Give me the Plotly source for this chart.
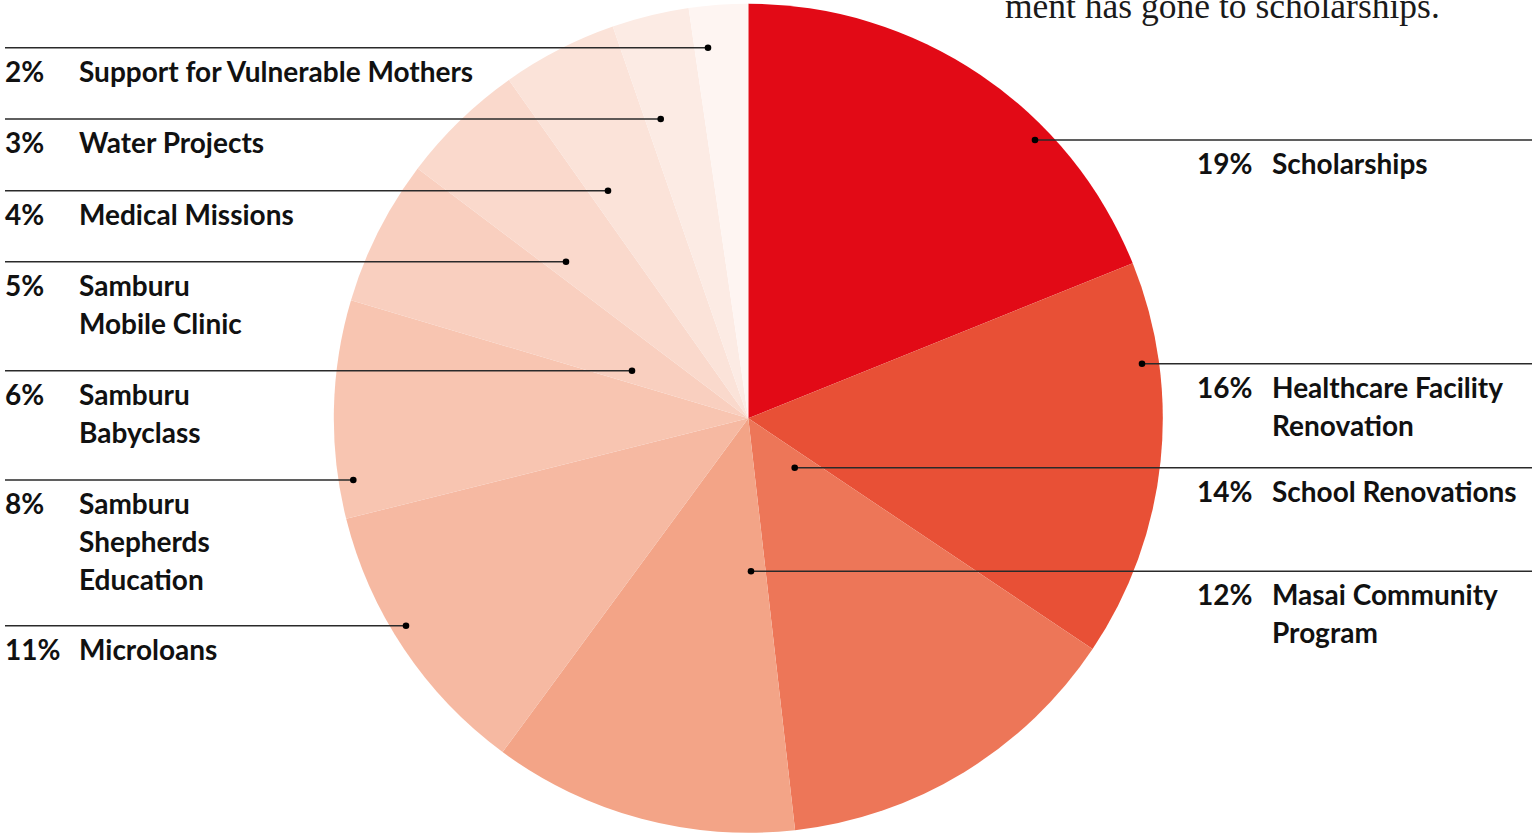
import plotly.graph_objects as go

# ---------------- data ----------------
categories = [
    "Scholarships", "Healthcare Facility<br>Renovation", "School Renovations",
    "Masai Community<br>Program", "Microloans", "Samburu<br>Shepherds<br>Education",
    "Samburu<br>Babyclass", "Samburu<br>Mobile Clinic", "Medical Missions",
    "Water Projects", "Support for Vulnerable Mothers",
]
shares = [18.9, 15.5, 13.8, 11.9, 11.0, 8.5, 5.7, 4.9, 4.5, 3.0, 2.3]
pct_labels = ["19%", "16%", "14%", "12%", "11%", "8%", "6%", "5%", "4%", "3%", "2%"]
colors = ["#E20A16", "#E85036", "#ED7658", "#F3A487", "#F6B9A2", "#F8C5B1",
          "#F9CFBF", "#FAD9CC", "#FBE3D9", "#FCEBE4", "#FEF5F2"]

# ---------------- layout constants (pixels) ----------------
W, H = 1532, 838
CX, CY, R = 748.3, 418.3, 414.5
# leader: (side, line_y, dot_x) in the same order as categories
leaders = [
    ("R", 140.0, 1035.0), ("R", 363.7, 1142.0), ("R", 467.7, 794.7), ("R", 571.3, 751.0),
    ("L", 625.7, 406.0), ("L", 480.0, 353.3), ("L", 370.7, 632.0), ("L", 261.7, 566.0),
    ("L", 190.7, 608.0), ("L", 119.0, 660.7), ("L", 47.7, 708.0),
]
LABEL_FONT = "Lato, Roboto, sans-serif"
FS = 28
LINE_STEP = 38
TOP_OFFSET = 4

def px(x):
    return x / W

def py(y):
    return 1 - y / H

fig = go.Figure()
fig.add_trace(go.Pie(
    labels=categories, values=shares, sort=False, direction="clockwise", rotation=0,
    marker=dict(colors=colors, line=dict(width=0)), textinfo="none", hoverinfo="skip",
    showlegend=False,
    domain=dict(x=[px(CX - R), px(CX + R)], y=[py(CY + R), py(CY - R)]),
))

shapes = []
for side, ly, dx in leaders:
    x0, x1 = (5, dx) if side == "L" else (dx, W)
    shapes.append(dict(type="line", xref="x", yref="y", x0=x0, x1=x1, y0=ly, y1=ly,
                       line=dict(color="#2a2a2a", width=1.4), layer="above"))
    shapes.append(dict(type="circle", xref="x", yref="y", xsizemode="pixel", ysizemode="pixel",
                       xanchor=dx, yanchor=ly, x0=-3.3, x1=3.3, y0=-3.3, y1=3.3,
                       fillcolor="#000000", line=dict(width=0), layer="above"))

annotations = []
lab_font = dict(family=LABEL_FONT, size=FS, color="#111111", weight="bold")
for cat, pct, (side, ly, dx) in zip(categories, pct_labels, leaders):
    if side == "L":
        x_pct, x_name = 3, 77
    else:
        x_pct, x_name = 1195, 1270
    top = ly + TOP_OFFSET
    annotations.append(dict(text=pct, x=px(x_pct), y=py(top), xref="paper", yref="paper",
                            xanchor="left", yanchor="top", showarrow=False, font=lab_font))
    for i, line in enumerate(cat.split("<br>")):
        annotations.append(dict(text=line, x=px(x_name), y=py(top + i * LINE_STEP),
                                xref="paper", yref="paper", xanchor="left", yanchor="top",
                                showarrow=False, font=lab_font))

annotations.append(dict(
    text="ment has gone to scholarships.", x=px(1003), y=py(28), xref="paper", yref="paper",
    xanchor="left", yanchor="bottom", showarrow=False,
    font=dict(family="Liberation Serif, DejaVu Serif, serif", size=35.5, color="#1a1a1a"),
))

fig.update_layout(
    width=W, height=H, margin=dict(l=0, r=0, t=0, b=0),
    paper_bgcolor="white", plot_bgcolor="rgba(0,0,0,0)",
    xaxis=dict(range=[0, W], visible=False, domain=[0, 1], fixedrange=True),
    yaxis=dict(range=[H, 0], visible=False, domain=[0, 1], fixedrange=True),
    annotations=annotations, shapes=shapes,
)

fig.write_html("out.html", config={"displayModeBar": False},
               post_script="document.body.style.margin='0';")
